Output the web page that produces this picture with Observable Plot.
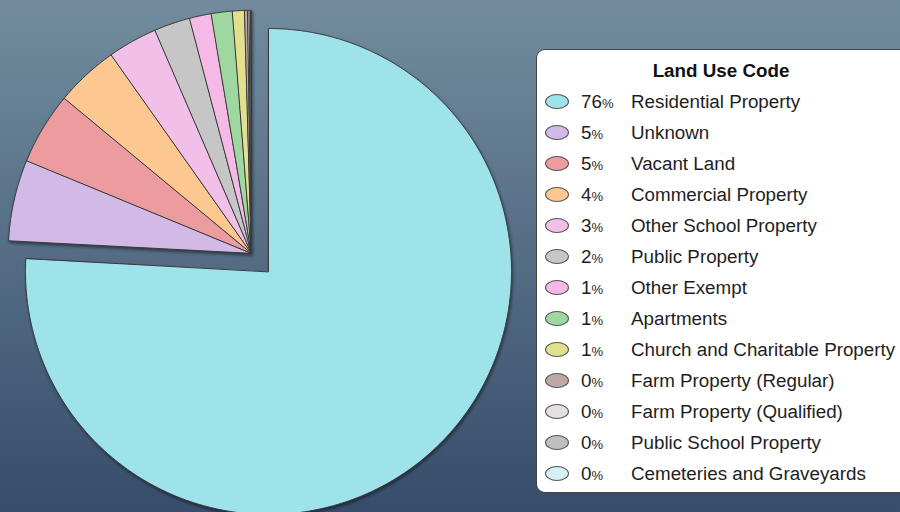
<!DOCTYPE html>
<html><head><meta charset="utf-8">
<script src="https://cdn.jsdelivr.net/npm/d3@7"></script>
<script src="https://cdn.jsdelivr.net/npm/@observablehq/plot@0.6"></script>
<style>
html,body{margin:0;padding:0;width:900px;height:512px;overflow:hidden;}
body{background:linear-gradient(#728c9e,#364d6b);font-family:"Liberation Sans",Arial,sans-serif;}
#wrap{position:relative;width:900px;height:512px;overflow:hidden;}
#wrap svg{position:absolute;left:0;top:0;filter:drop-shadow(1px 2px 1.5px rgba(0,0,0,0.45));}
#legend{position:absolute;left:536px;top:49px;width:380px;height:444px;background:#fff;border:1.5px solid #444;border-radius:9px;box-sizing:border-box;}
#legend .title{position:absolute;left:0;width:368px;top:10px;text-align:center;font-weight:bold;font-size:18.8px;color:#111;}
#legend .row{position:absolute;left:0;height:22px;line-height:22px;font-size:18.8px;color:#1e1e1e;white-space:nowrap;}
#legend .sw{position:absolute;left:8px;top:3px;width:22px;height:13px;border:1.5px solid #555;border-radius:50%;}
#legend .pc{position:absolute;left:44px;}
#legend .pc small{font-size:13px;}
#legend .lb{position:absolute;left:94px;}
</style></head><body><div id="wrap"></div>
<script>
const categories = ["Residential Property","Unknown","Vacant Land","Commercial Property","Other School Property","Public Property","Other Exempt","Apartments","Church and Charitable Property","Farm Property (Regular)","Farm Property (Qualified)","Public School Property","Cemeteries and Graveyards"];
const values = [75.9, 5.4, 4.8, 4.2, 3.3, 2.4, 1.45, 1.4, 0.8, 0.2, 0.1, 0.1, 0.05];
const colors = ["#9ee2ea","#d3b9e6","#ec9c9f","#fdc791","#f1bfe7","#c6c6c6","#f4b9e5","#9fd7a1","#e3e08d","#bda8a7","#e6dfdf","#bfbfbf","#d6f0f4"];
const legendTitle = "Land Use Code";
const explode = 0.103; // radius units for the grouped small slices

const W = 900, H = 512, R = 243, cx = 268, cy = 271;
const total = d3.sum(values);
const arcs = d3.pie().sort(null).value(d => d)(values);
const groupMid = (arcs[1].startAngle + 2 * Math.PI) / 2;
const rows = [];
arcs.forEach((a, i) => {
  const off = i === 0 ? 0 : explode;
  const ox = off * Math.sin(groupMid), oy = off * Math.cos(groupMid);
  const cat = categories[i];
  rows.push({cat, x: ox, y: oy});
  const n = Math.max(2, Math.ceil((a.endAngle - a.startAngle) / (Math.PI / 360)));
  for (let k = 0; k <= n; k++) {
    const t = a.startAngle + (a.endAngle - a.startAngle) * k / n;
    rows.push({cat, x: ox + Math.sin(t), y: oy + Math.cos(t)});
  }
});

const chart = Plot.plot({
  width: W, height: H, margin: 0,
  x: {domain: [-cx / R, (W - cx) / R], axis: null},
  y: {domain: [-(H - cy) / R, cy / R], axis: null},
  color: {domain: categories, range: colors},
  style: {background: "transparent", overflow: "visible"},
  marks: [
    Plot.line(rows, {x: "x", y: "y", z: "cat", fill: "cat", stroke: "#3a3a3a", strokeWidth: 1, strokeLinejoin: "round", curve: "linear-closed"})
  ]
});
const wrap = document.getElementById("wrap");
wrap.appendChild(chart);

const color = chart.scale("color");
const lg = document.createElement("div");
lg.id = "legend";
const tt = document.createElement("div");
tt.className = "title"; tt.textContent = legendTitle;
lg.appendChild(tt);
categories.forEach((c, i) => {
  const r = document.createElement("div");
  r.className = "row";
  r.style.top = (41 + 31 * i) + "px";
  const sw = document.createElement("span"); sw.className = "sw"; sw.style.background = color.apply(c);
  const pc = document.createElement("span"); pc.className = "pc";
  pc.innerHTML = Math.round(values[i] / total * 100) + "<small>%</small>";
  const lb = document.createElement("span"); lb.className = "lb"; lb.textContent = c;
  r.append(sw, pc, lb);
  lg.appendChild(r);
});
wrap.appendChild(lg);
</script></body></html>
